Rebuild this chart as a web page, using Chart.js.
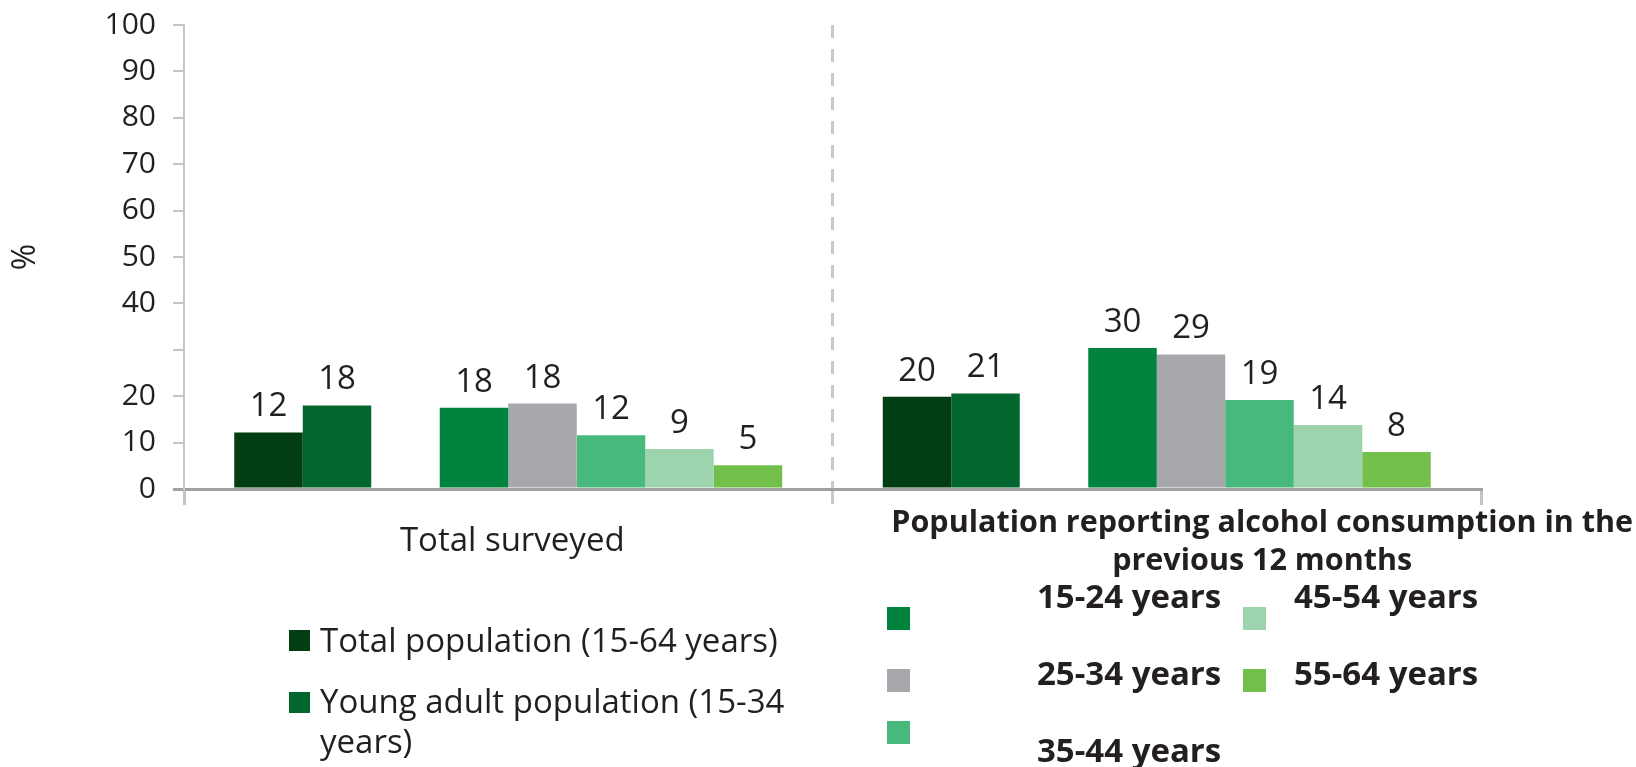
<!DOCTYPE html>
<html>
<head>
<meta charset="utf-8">
<script src="https://cdn.jsdelivr.net/npm/chart.js@4.4.1/dist/chart.umd.min.js"></script>
<style>
  html, body { margin: 0; padding: 0; background: #fff; }
  #wrap { position: relative; width: 1636px; height: 767px; overflow: hidden;
          font-family: "Open Sans", sans-serif; color: #231f20; }
  #chart { position: absolute; left: 0; top: 0; }
  .swatch { position: absolute; }
  .item { position: absolute; font-size: 33px; line-height: 40px; }
</style>
</head>
<body>
<div id="wrap">
  <canvas id="chart" width="1636" height="767"></canvas>
  <div id="legend"></div>
</div>
<script>
// categories on the x axis
const categories = [
  "Total surveyed",
  ["Population reporting alcohol consumption in the", "previous 12 months"]
];

// % of each group, [total surveyed, reported drinking in last 12 months]
const totalPopulation = [12.2, 19.9];
const youngAdults = [18.0, 20.6];
const age15to24 = [17.5, 30.4];
const age25to34 = [18.4, 29.0];
const age35to44 = [11.6, 19.2];
const age45to54 = [8.6, 13.8];
const age55to64 = [5.1, 8.0];

const seriesLabels = [
  "Total population (15-64 years)",
  "Young adult population (15-34 years)",
  "15-24 years",
  "25-34 years",
  "35-44 years",
  "45-54 years",
  "55-64 years"
];
const seriesColors = ["#023d13", "#02662f", "#00843d", "#a7a8ab", "#47b97c", "#9dd4ae", "#72bf4b"];

const yMin = 0;
const yMax = 100;
const yStep = 10;
const yHiddenTick = 30; // not labelled in the original

const textColor = "#231f20";
const normalWeight = 500;
Chart.defaults.font.family = '"Open Sans", sans-serif';
Chart.defaults.font.weight = normalWeight;
Chart.defaults.color = textColor;

const seriesData = [totalPopulation, youngAdults, age15to24, age25to34, age35to44, age45to54, age55to64];
const datasets = seriesData.map((d, i) => ({
  label: seriesLabels[i],
  data: d,
  backgroundColor: seriesColors[i],
  borderWidth: 0
}));
// empty slot between the two overall bars and the age bars
datasets.splice(2, 0, { label: "", data: [null, null], backgroundColor: "rgba(0,0,0,0)", spacer: true });

const barValueLabels = {
  id: "barValueLabels",
  afterDatasetsDraw(chart) {
    const ctx = chart.ctx;
    ctx.save();
    ctx.font = normalWeight + ' 33px "Open Sans"';
    ctx.fillStyle = textColor;
    ctx.textAlign = "center";
    ctx.textBaseline = "alphabetic";
    chart.data.datasets.forEach((ds, i) => {
      if (ds.spacer) return;
      chart.getDatasetMeta(i).data.forEach((bar, j) => {
        const v = ds.data[j];
        if (v == null) return;
        ctx.fillText(String(Math.round(v)), bar.x, bar.y - 16);
      });
    });
    ctx.restore();
  }
};

const categoryFonts = [normalWeight + ' 33px "Open Sans"', 'bold 30.5px "Open Sans"'];
const categoryLabels = {
  id: "categoryLabels",
  afterDraw(chart) {
    const ctx = chart.ctx;
    const xs = chart.scales.x;
    const midY = chart.chartArea.bottom + 50;
    const lineH = 38;
    ctx.save();
    ctx.fillStyle = textColor;
    ctx.textAlign = "center";
    ctx.textBaseline = "alphabetic";
    chart.data.labels.forEach((lab, i) => {
      const lines = Array.isArray(lab) ? lab : [lab];
      ctx.font = categoryFonts[i];
      const widest = Math.max(...lines.map(l => ctx.measureText(l).width));
      let cx = xs.getPixelForValue(i) + 4;
      // the long label sits against the right edge in the original
      if (lines.length > 1) cx = chart.width - 3 - widest / 2;
      let y = midY - (lines.length - 1) * lineH / 2 + 12;
      lines.forEach(l => { ctx.fillText(l, cx, y); y += lineH; });
    });
    ctx.restore();
  }
};

new Chart(document.getElementById("chart"), {
  type: "bar",
  data: { labels: categories, datasets: datasets },
  plugins: [barValueLabels, categoryLabels],
  options: {
    responsive: false,
    animation: false,
    layout: { padding: { left: 0, right: 155, top: 25, bottom: 262 } },
    plugins: { legend: { display: false }, tooltip: { enabled: false } },
    datasets: { bar: { categoryPercentage: 0.845, barPercentage: 1.0 } },
    scales: {
      x: {
        offset: true,
        grid: {
          offset: true,
          drawOnChartArea: true,
          color: c => c.index === 1 ? "#c9c9c9" : "rgba(0,0,0,0)",
          tickColor: c => c.index === 1 ? "#c9c9c9" : "#c4c4c4",
          tickBorderDash: c => c.index === 1 ? [13, 11] : [],
          lineWidth: 3,
          tickLength: 16
        },
        border: { color: "#a0a0a4", width: 3, dash: c => c.index === 1 ? [13, 11] : [] },
        ticks: { display: false }
      },
      y: {
        min: yMin,
        max: yMax,
        // fixed axis width; let the plot reach up to the layout padding
        afterFit: s => { s.width = 184; s.paddingTop = 0; s.paddingBottom = 0; },
        title: { display: true, text: "%", font: { size: 32 }, color: textColor, padding: { top: 7, bottom: 0 } },
        grid: {
          drawOnChartArea: false,
          tickLength: 11,
          lineWidth: c => c.index === 0 ? 3 : 2,
          tickColor: c => c.index === 0 ? "#a0a0a4" : "#c4c4c4"
        },
        border: { color: "#c8c8c8", width: 2 },
        ticks: {
          stepSize: yStep,
          padding: 17,
          color: textColor,
          font: { size: 30 },
          callback: v => v === yHiddenTick ? "" : v
        }
      }
    }
  }
});

// two separate legend blocks like the original figure
const legendLayout = [
  { series: 0, box: [289, 630, 21], text: [320, 620], width: 480, weight: normalWeight },
  { series: 1, box: [289, 692, 21], text: [320, 681], width: 480, weight: normalWeight },
  { series: 2, box: [887, 607, 23], text: [1037, 576], weight: 700 },
  { series: 3, box: [887, 669, 23], text: [1037, 653], weight: 700 },
  { series: 4, box: [887, 721, 23], text: [1037, 730], weight: 700 },
  { series: 5, box: [1243, 607, 23], text: [1294, 576], weight: 700 },
  { series: 6, box: [1243, 669, 23], text: [1294, 653], weight: 700 }
];
const legend = document.getElementById("legend");
legendLayout.forEach(it => {
  const sw = document.createElement("div");
  sw.className = "swatch";
  sw.style.left = it.box[0] + "px";
  sw.style.top = it.box[1] + "px";
  sw.style.width = it.box[2] + "px";
  sw.style.height = it.box[2] + "px";
  sw.style.background = seriesColors[it.series];
  legend.appendChild(sw);
  const tx = document.createElement("div");
  tx.className = "item";
  tx.style.left = it.text[0] + "px";
  tx.style.top = it.text[1] + "px";
  tx.style.fontWeight = it.weight;
  if (it.width) tx.style.width = it.width + "px"; else tx.style.whiteSpace = "nowrap";
  tx.textContent = seriesLabels[it.series];
  legend.appendChild(tx);
});
</script>
</body>
</html>
